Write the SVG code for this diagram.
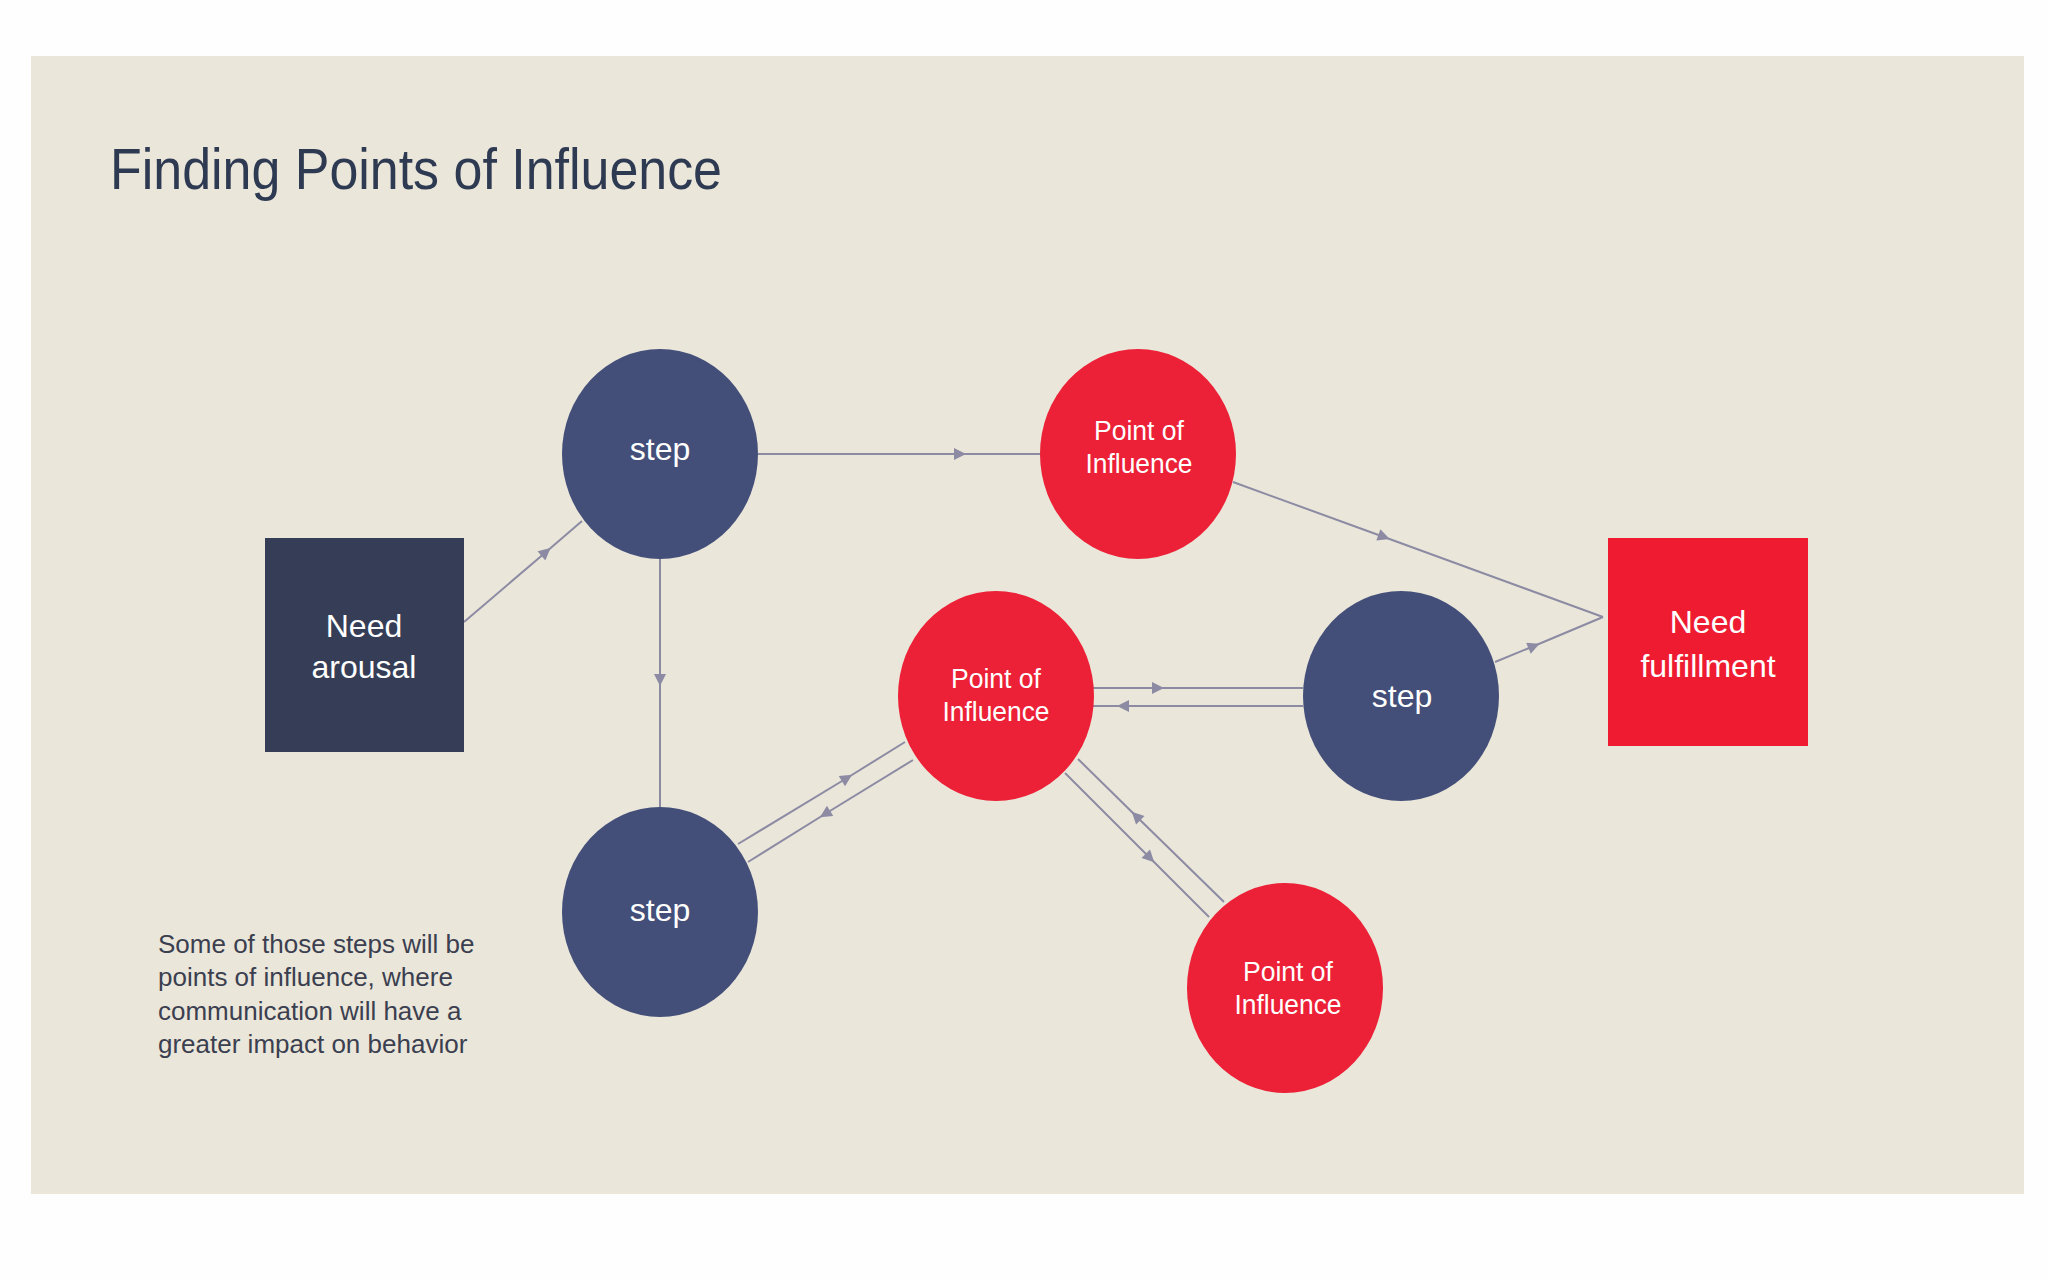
<svg xmlns="http://www.w3.org/2000/svg" width="2048" height="1280" viewBox="0 0 2048 1280">
<style>
.lbl{font-family:"Liberation Sans",Arial,sans-serif;fill:#FFFFFF;text-anchor:middle}
.big{font-size:32px}
.poi{font-size:27px}
.step{fill:#434F78}
.red{fill:#EC2036}
.conn{fill:none;stroke:#8C8BA3;stroke-width:2;marker-mid:url(#arr)}
</style>
<defs>
<marker id="arr" viewBox="0 0 10 10" refX="5" refY="5" markerUnits="userSpaceOnUse" markerWidth="14" markerHeight="12" orient="auto">
<path d="M0,0 L10,5 L0,10 z" fill="#8C8BA3"/>
</marker>
</defs>
<rect x="0" y="0" width="2048" height="1280" fill="#FEFEFE"/>
<rect x="31" y="56" width="1993" height="1138" fill="#EAE6DA"/>
<text x="110" y="189" font-family="Liberation Sans, Arial, sans-serif" font-size="58" fill="#2E3A52" textLength="612" lengthAdjust="spacingAndGlyphs">Finding Points of Influence</text>
<g id="connectors">
<path class="conn" d="M464,622 L546,552 L582,521"/>
<path class="conn" d="M758,454 L960,454 L1040,454"/>
<path class="conn" d="M660,559 L660,680 L660,807"/>
<path class="conn" d="M1233,482 L1384,537 L1603,617"/>
<path class="conn" d="M1495,662 L1534,646 L1603,617"/>
<path class="conn" d="M1093,688 L1158,688 L1303,688"/>
<path class="conn" d="M1303,706 L1123,706 L1093,706"/>
<path class="conn" d="M738,844 L847,778 L905,742"/>
<path class="conn" d="M913,760 L825,814 L748,862"/>
<path class="conn" d="M1224,902 L1136,816 L1078,759"/>
<path class="conn" d="M1065,773 L1150,858 L1209,917"/>
</g>
<g id="need-arousal">
<rect x="265" y="538" width="199" height="214" fill="#353E56"/>
<text class="lbl big" x="364" y="637">Need</text>
<text class="lbl big" x="364" y="678">arousal</text>
</g>
<g id="step-1">
<ellipse class="step" cx="660" cy="454" rx="98" ry="105"/>
<text class="lbl big" x="660" y="460">step</text>
</g>
<g id="poi-1">
<ellipse class="red" cx="1138" cy="454" rx="98" ry="105"/>
<text class="lbl poi" x="1139" y="440" textLength="90" lengthAdjust="spacingAndGlyphs">Point of</text>
<text class="lbl poi" x="1139" y="473" textLength="107" lengthAdjust="spacingAndGlyphs">Influence</text>
</g>
<g id="need-fulfillment">
<rect x="1608" y="538" width="200" height="208" fill="#EE1B31"/>
<text class="lbl big" x="1708" y="633">Need</text>
<text class="lbl big" x="1708" y="677">fulfillment</text>
</g>
<g id="poi-2">
<ellipse class="red" cx="996" cy="696" rx="98" ry="105"/>
<text class="lbl poi" x="996" y="688" textLength="90" lengthAdjust="spacingAndGlyphs">Point of</text>
<text class="lbl poi" x="996" y="721" textLength="107" lengthAdjust="spacingAndGlyphs">Influence</text>
</g>
<g id="step-2">
<ellipse class="step" cx="1401" cy="696" rx="98" ry="105"/>
<text class="lbl big" x="1402" y="707">step</text>
</g>
<g id="step-3">
<ellipse class="step" cx="660" cy="912" rx="98" ry="105"/>
<text class="lbl big" x="660" y="921">step</text>
</g>
<g id="poi-3">
<ellipse class="red" cx="1285" cy="988" rx="98" ry="105"/>
<text class="lbl poi" x="1288" y="981" textLength="90" lengthAdjust="spacingAndGlyphs">Point of</text>
<text class="lbl poi" x="1288" y="1014" textLength="107" lengthAdjust="spacingAndGlyphs">Influence</text>
</g>
<g id="note" font-family="Liberation Sans, Arial, sans-serif" font-size="26" fill="#3B3F4F">
<text x="158" y="953">Some of those steps will be</text>
<text x="158" y="986">points of influence, where</text>
<text x="158" y="1020">communication will have a</text>
<text x="158" y="1053">greater impact on behavior</text>
</g>
</svg>
